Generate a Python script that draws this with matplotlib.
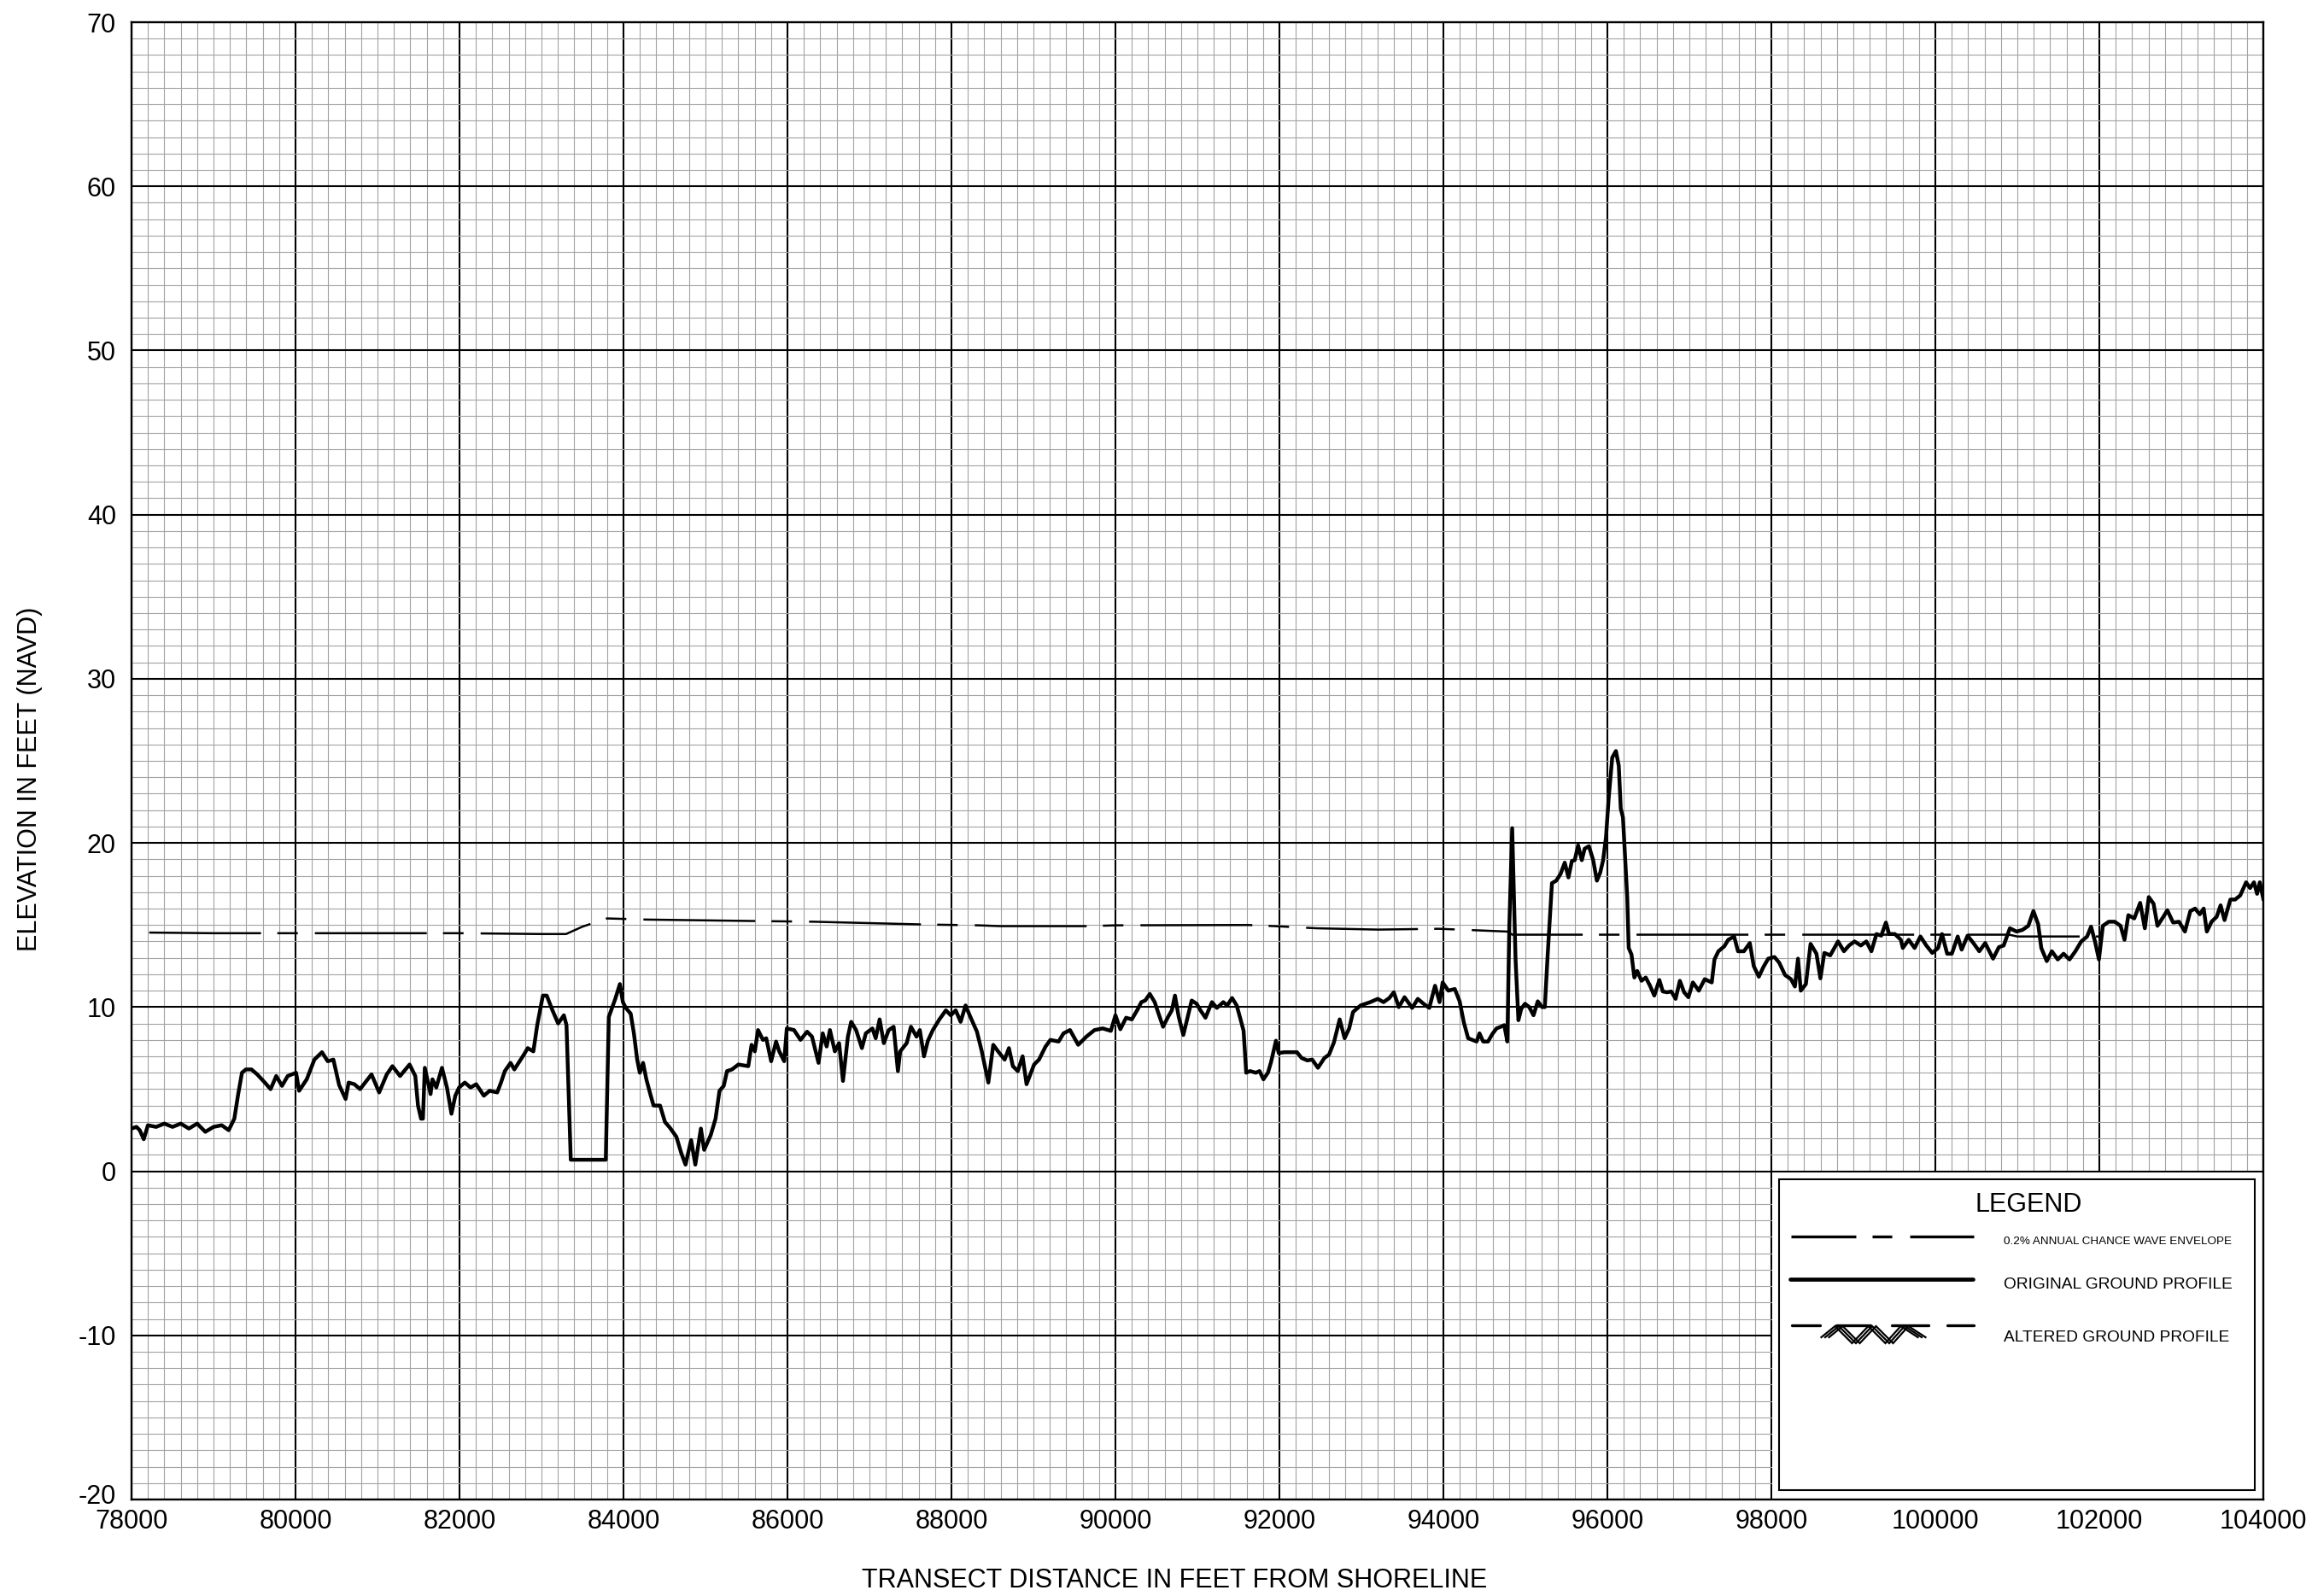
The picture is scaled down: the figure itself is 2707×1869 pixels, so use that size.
import matplotlib
matplotlib.use("Agg")
import matplotlib.pyplot as plt
import matplotlib.transforms as mtransforms
from matplotlib.ticker import MultipleLocator
from matplotlib.lines import Line2D
from matplotlib.patches import Rectangle

plt.rcParams['font.family'] = ['Liberation Sans', 'DejaVu Sans']
plt.rcParams['lines.scale_dashes'] = False
plt.rcParams['axes.unicode_minus'] = False

W, H = 2707, 1869

# ground profile, digitised (transect distance ft, elevation ft NAVD)
ground_x = [
    78000, 78060, 78100, 78149, 78200, 78300, 78400, 78500, 78600, 78700, 78800, 78900, 79000, 79100,
    79185, 79254, 79301, 79347, 79394, 79463, 79533, 79626, 79696, 79765, 79835, 79905, 80007, 80044,
    80137, 80230, 80323, 80393, 80462, 80532, 80611, 80648, 80718, 80787, 80927, 81020, 81113, 81182,
    81275, 81391, 81461, 81494, 81531, 81554, 81577, 81647, 81670, 81717, 81786, 81847, 81902, 81949,
    81995, 82065, 82135, 82204, 82297, 82367, 82460, 82506, 82553, 82623, 82669, 82785, 82832, 82901,
    82948, 83017, 83064, 83134, 83203, 83273, 83305, 83357, 83784, 83821, 83900, 83956, 83993, 84028,
    84088, 84127, 84167, 84199, 84239, 84279, 84327, 84367, 84446, 84506, 84566, 84645, 84705, 84757,
    84825, 84876, 84944, 84984, 85064, 85123, 85171, 85223, 85263, 85323, 85402, 85522, 85562, 85602,
    85641, 85701, 85741, 85801, 85861, 85900, 85960, 85992, 86080, 86159, 86239, 86299, 86379, 86430,
    86478, 86518, 86578, 86630, 86677, 86737, 86777, 86837, 86908, 86956, 87036, 87076, 87124, 87175,
    87235, 87295, 87347, 87375, 87454, 87506, 87574, 87614, 87665, 87713, 87773, 87853, 87932, 87992,
    88052, 88112, 88172, 88231, 88311, 88370, 88450, 88510, 88569, 88649, 88701, 88749, 88809, 88868,
    88916, 89008, 89068, 89148, 89207, 89307, 89367, 89446, 89546, 89646, 89745, 89845, 89944, 90000,
    90060, 90130, 90200, 90270, 90316, 90363, 90419, 90479, 90526, 90581, 90642, 90688, 90726, 90772,
    90828, 90874, 90930, 90991, 91037, 91098, 91177, 91237, 91316, 91363, 91423, 91479, 91526, 91563,
    91595, 91642, 91712, 91758, 91805, 91860, 91898, 91958, 91991, 92060, 92130, 92214, 92270, 92340,
    92400, 92470, 92549, 92605, 92665, 92735, 92795, 92851, 92898, 92991, 93107, 93200, 93270, 93340,
    93395, 93456, 93526, 93619, 93688, 93758, 93828, 93898, 93953, 93991, 94060, 94139, 94198, 94250,
    94302, 94354, 94405, 94440, 94485, 94544, 94596, 94648, 94700, 94742, 94780, 94804, 94839, 94880,
    94915, 94950, 94995, 95047, 95099, 95151, 95203, 95237, 95272, 95324, 95376, 95428, 95480, 95525,
    95567, 95602, 95643, 95688, 95723, 95775, 95827, 95872, 95913, 95948, 95983, 96017, 96059, 96104,
    96139, 96163, 96190, 96242, 96260, 96294, 96329, 96364, 96416, 96468, 96520, 96572, 96634, 96676,
    96728, 96780, 96832, 96884, 96936, 96988, 97043, 97115, 97187, 97273, 97306, 97354, 97426, 97474,
    97546, 97593, 97665, 97737, 97785, 97847, 97904, 97962, 98038, 98096, 98167, 98239, 98287, 98325,
    98359, 98421, 98478, 98550, 98598, 98646, 98718, 98813, 98885, 98947, 99014, 99091, 99158, 99220,
    99282, 99340, 99397, 99436, 99507, 99579, 99603, 99675, 99747, 99818, 99890, 99962, 100034, 100081,
    100144, 100201, 100273, 100321, 100393, 100464, 100536, 100608, 100704, 100775, 100833, 100909,
    100991, 101062, 101134, 101196, 101254, 101292, 101359, 101421, 101493, 101564, 101636, 101708,
    101780, 101851, 101899, 101947, 101995, 102043, 102115, 102187, 102259, 102307, 102354, 102426,
    102498, 102555, 102603, 102661, 102709, 102781, 102829, 102900, 102972, 103044, 103110, 103168,
    103225, 103273, 103311, 103369, 103431, 103479, 103527, 103598, 103656, 103718, 103790, 103838,
    103886, 103924, 103957, 104000,
]
ground_y = [
    2.6, 2.7, 2.5, 1.95, 2.8, 2.7, 2.9, 2.7, 2.9, 2.6, 2.9, 2.4, 2.7, 2.8,
    2.5, 3.2, 4.7, 6.0, 6.2, 6.2, 5.9, 5.4, 5.0, 5.8, 5.2, 5.8, 6.0, 4.9,
    5.6, 6.8, 7.25, 6.7, 6.8, 5.25, 4.4, 5.4, 5.3, 5.0, 5.9, 4.8, 5.9, 6.4,
    5.8, 6.5, 5.8, 4.0, 3.2, 3.2, 6.3, 4.7, 5.6, 5.1, 6.3, 5.1, 3.5, 4.6,
    5.1, 5.4, 5.1, 5.3, 4.6, 4.9, 4.8, 5.4, 6.1, 6.6, 6.2, 7.1, 7.5, 7.3,
    8.9, 10.7, 10.7, 9.8, 9.0, 9.5, 8.9, 0.7, 0.7, 9.4, 10.5, 11.4, 10.3, 9.95,
    9.6, 8.4, 6.8, 6.0, 6.6, 5.6, 4.7, 4.0, 4.0, 3.0, 2.65, 2.1, 1.1, 0.4,
    1.9, 0.4, 2.6, 1.3, 2.2, 3.2, 4.9, 5.2, 6.1, 6.2, 6.5, 6.4, 7.7, 7.3,
    8.6, 8.0, 8.1, 6.7, 7.9, 7.3, 6.7, 8.7, 8.6, 8.0, 8.5, 8.2, 6.6, 8.4,
    7.6, 8.6, 7.3, 7.8, 5.5, 8.2, 9.1, 8.6, 7.5, 8.4, 8.7, 8.1, 9.25, 7.8,
    8.6, 8.8, 6.1, 7.3, 7.8, 8.8, 8.2, 8.6, 7.0, 7.95, 8.6, 9.25, 9.8, 9.5,
    9.8, 9.1, 10.1, 9.4, 8.5, 7.3, 5.4, 7.7, 7.3, 6.8, 7.5, 6.4, 6.1, 7.0,
    5.3, 6.5, 6.8, 7.6, 8.0, 7.9, 8.4, 8.6, 7.7, 8.2, 8.6, 8.7, 8.55, 9.5,
    8.65, 9.35, 9.25, 9.85, 10.3, 10.4, 10.8, 10.3, 9.6, 8.8, 9.4, 9.8, 10.7, 9.4,
    8.3, 9.25, 10.4, 10.2, 9.8, 9.35, 10.3, 9.95, 10.3, 10.1, 10.55, 10.1, 9.25, 8.55,
    6.0, 6.1, 6.0, 6.1, 5.6, 6.0, 6.65, 7.95, 7.2, 7.25, 7.25, 7.25, 6.9, 6.75,
    6.8, 6.3, 6.9, 7.1, 7.85, 9.25, 8.1, 8.7, 9.7, 10.1, 10.3, 10.5, 10.3, 10.55,
    10.9, 10.0, 10.6, 9.95, 10.5, 10.2, 9.95, 11.3, 10.3, 11.5, 11.0, 11.1, 10.35, 9.05,
    8.1, 8.0, 7.9, 8.4, 7.9, 7.9, 8.35, 8.7, 8.8, 8.9, 7.9, 14.95, 20.9, 12.9,
    9.2, 9.9, 10.2, 10.0, 9.5, 10.35, 10.0, 10.0, 13.2, 17.55, 17.7, 18.1, 18.8, 17.9,
    18.9, 18.95, 19.85, 18.95, 19.65, 19.8, 18.95, 17.7, 18.2, 18.95, 20.35, 22.8, 25.2, 25.6,
    24.7, 22.1, 21.55, 16.7, 13.6, 13.2, 11.8, 12.2, 11.6, 11.8, 11.3, 10.7, 11.65, 10.95,
    10.9, 10.95, 10.5, 11.6, 10.9, 10.6, 11.5, 11.0, 11.7, 11.5, 12.9, 13.4, 13.7, 14.1,
    14.3, 13.4, 13.4, 13.9, 12.5, 11.85, 12.45, 12.95, 13.05, 12.7, 11.95, 11.7, 11.25, 12.95,
    11.0, 11.4, 13.85, 13.25, 11.75, 13.3, 13.15, 14.0, 13.4, 13.75, 14.0, 13.75, 14.0, 13.4,
    14.45, 14.35, 15.15, 14.45, 14.45, 14.1, 13.6, 14.1, 13.6, 14.3, 13.75, 13.3, 13.6, 14.45,
    13.25, 13.25, 14.3, 13.5, 14.35, 13.9, 13.4, 13.9, 12.95, 13.65, 13.75, 14.8,
    14.6, 14.7, 14.95, 15.85, 15.05, 13.6, 12.8, 13.4, 12.9, 13.25, 12.9, 13.4,
    14.0, 14.3, 14.9, 14.0, 12.9, 14.95, 15.2, 15.2, 14.95, 14.1, 15.6, 15.4,
    16.35, 14.8, 16.7, 16.3, 14.95, 15.5, 15.9, 15.15, 15.2, 14.6, 15.85, 16.0,
    15.65, 16.0, 14.6, 15.2, 15.5, 16.2, 15.3, 16.55, 16.55, 16.8, 17.6, 17.25,
    17.6, 16.9, 17.6, 16.6,
]

# 0.2% annual chance wave envelope
env_x = [78000, 79000, 80000, 81000, 82000, 83000, 83300, 83500, 83800, 84287, 85641, 86319, 87673,
         88330, 88600, 89665, 90000, 91620, 91944, 92456, 93200, 93944, 94781, 94840, 100900, 101000,
         102000]
env_y = [14.55, 14.5, 14.5, 14.5, 14.5, 14.45, 14.45, 14.9, 15.4, 15.33, 15.24, 15.2, 15.03,
         14.98, 14.93, 14.93, 14.98, 15.0, 14.93, 14.8, 14.72, 14.77, 14.6, 14.41, 14.41, 14.3,
         14.3]

x_ticks = list(range(78000, 104001, 2000))
y_ticks = list(range(-20, 71, 10))

legend_title = "LEGEND"
legend_labels = ["0.2% ANNUAL CHANCE WAVE ENVELOPE", "ORIGINAL GROUND PROFILE", "ALTERED GROUND PROFILE"]


def fpx(x, y):
    # full-res pixel -> figure fraction
    return x / W, 1 - y / H


fig = plt.figure(figsize=(W / 100, H / 100), dpi=100, facecolor='white')
ax = fig.add_axes([154 / W, 1 - 1756 / H, 2496 / W, 1730 / H])

ax.set_xlim(78000, 104000)
ax.set_ylim(-20, 70)
ax.set_xticks(x_ticks)
ax.set_yticks(y_ticks)
ax.set_xticklabels([str(v) for v in x_ticks])
ax.set_yticklabels([str(v) for v in y_ticks])
ax.xaxis.set_minor_locator(MultipleLocator(200))
ax.yaxis.set_minor_locator(MultipleLocator(1))
ax.set_axisbelow(True)
ax.grid(which='minor', color='#a3a3a3', lw=0.8)
ax.grid(which='major', color='black', lw=1.5)
ax.tick_params(which='both', length=0)
ax.tick_params(axis='x', labelsize=22, pad=8)
ax.tick_params(axis='y', labelsize=22, pad=13)
for sp in ax.spines.values():
    sp.set_linewidth(1.7)
    sp.set_zorder(3)

# nudge the bottom y label up a little so it clears the first x label
lab = ax.get_yticklabels()[0]
lab.set_transform(lab.get_transform() + mtransforms.ScaledTranslation(0, 7 / 100, fig.dpi_scale_trans))

ax.plot(env_x, env_y, color='black', lw=1.8, linestyle=(124.8, (94.3, 13.7, 17.3, 14.4)),
        dash_capstyle='butt', zorder=2)
ax.plot(ground_x, ground_y, color='black', lw=3.2, solid_joinstyle='round', zorder=2.2)

# legend panel: white block in the lower right corner
ax.add_patch(Rectangle((98010, -20), 6000, 19.94, facecolor='white', edgecolor='none', zorder=1))
ax.add_patch(Rectangle((98091, -19.43), 103896 - 98091, 19.43 - 0.48, facecolor='none',
                       edgecolor='black', lw=1.5, zorder=2.5))

fig.text(*fpx(2375, 1419), legend_title, fontsize=22, ha='center', va='baseline')
fig.text(*fpx(2346, 1457), legend_labels[0], fontsize=9.7, ha='left', va='baseline')
fig.text(*fpx(2346, 1509), legend_labels[1], fontsize=13.8, ha='left', va='baseline')
fig.text(*fpx(2346, 1571), legend_labels[2], fontsize=13.8, ha='left', va='baseline')

# legend samples
x0, y0 = fpx(2097, 1448)
x1, _ = fpx(2311, 1448)
fig.add_artist(Line2D([x0, x1], [y0, y0], transform=fig.transFigure, color='black', lw=2.4,
                      linestyle=(0, (54.7, 13.7, 16.6, 15.1)), dash_capstyle='butt'))
x0, y0 = fpx(2096, 1498)
x1, _ = fpx(2310, 1498)
fig.add_artist(Line2D([x0, x1], [y0, y0], transform=fig.transFigure, color='black', lw=3.4,
                      solid_capstyle='round'))
for a, b in [(2098, 2131), (2150, 2190), (2215, 2258), (2280, 2311)]:
    xa, ya = fpx(a, 1552)
    xb, _ = fpx(b, 1552)
    fig.add_artist(Line2D([xa, xb], [ya, ya], transform=fig.transFigure, color='black', lw=2.4,
                          solid_capstyle='round'))
zig = [(2137, 1566), (2153, 1553), (2173, 1573), (2192, 1553), (2212, 1573), (2230, 1553), (2250, 1566)]
for off in (-4.5, 0, 4.5):
    pts = [fpx(px + off, py) for px, py in zig]
    fig.add_artist(Line2D([p[0] for p in pts], [p[1] for p in pts], transform=fig.transFigure,
                          color='black', lw=1.6, solid_joinstyle='miter'))

fig.text(*fpx(35, 912), "ELEVATION IN FEET (NAVD)", fontsize=22, rotation=90, ha='center', va='center')
fig.text(*fpx(1375, 1859), "TRANSECT DISTANCE IN FEET FROM SHORELINE", fontsize=22, ha='center',
         va='baseline')

fig.savefig("out.png", dpi=100, facecolor='white')
